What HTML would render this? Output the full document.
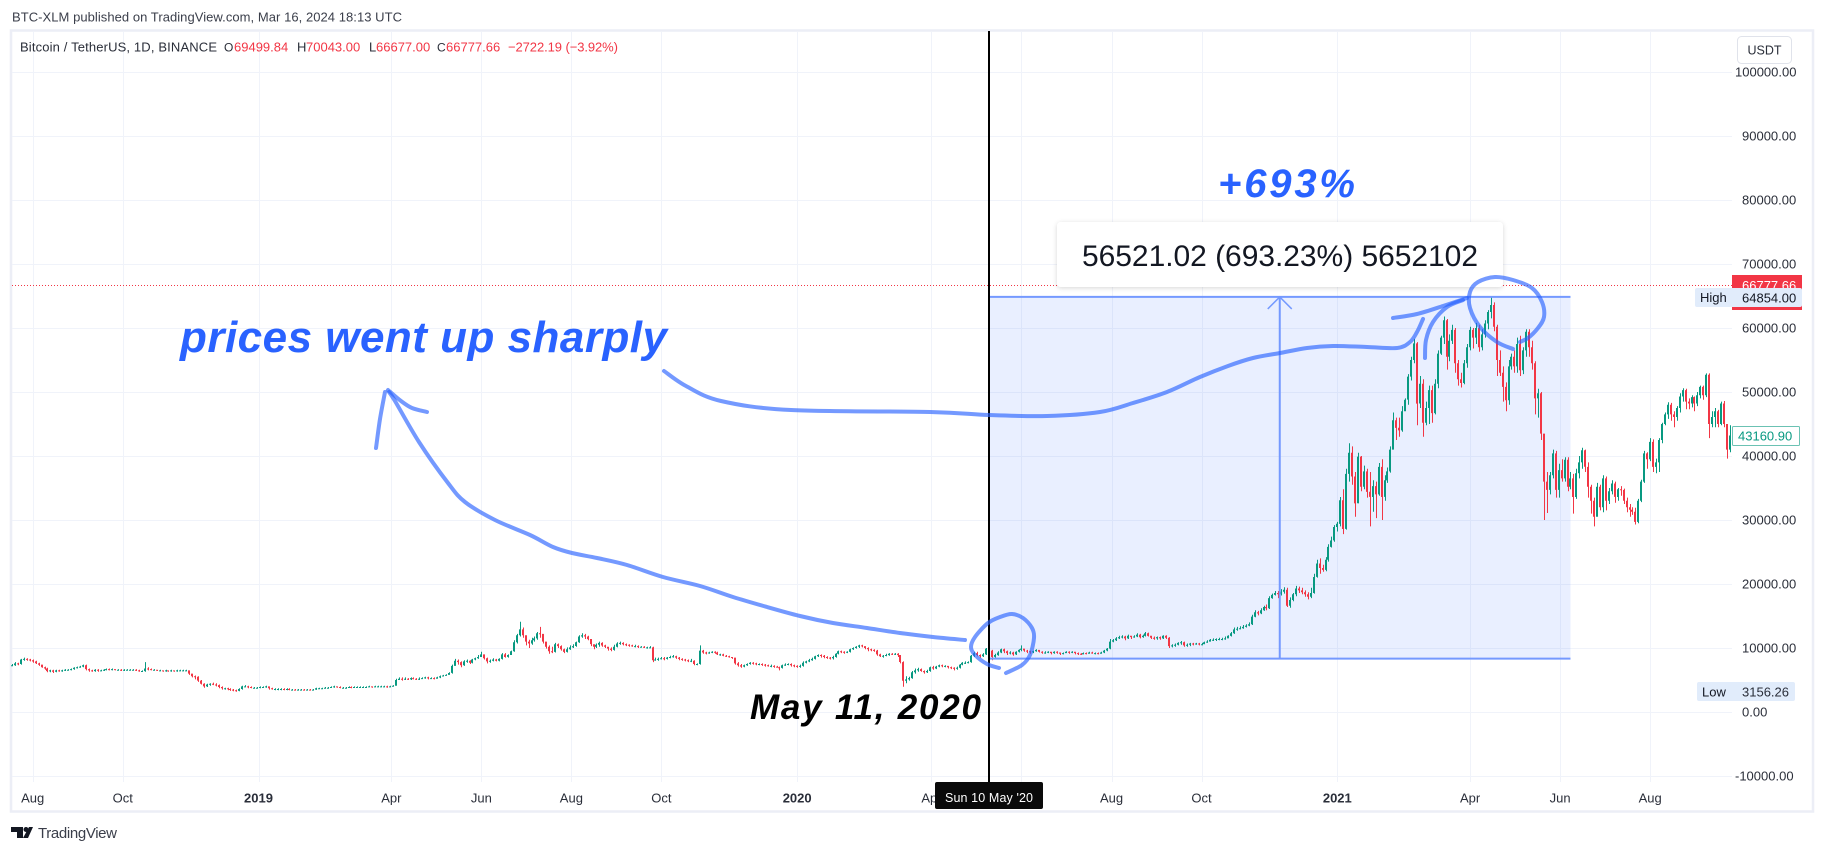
<!DOCTYPE html>
<html lang="en">
<head>
<meta charset="utf-8">
<title>Bitcoin / TetherUS, 1D, BINANCE</title>
<style>
html,body{margin:0;padding:0;background:#fff;width:1824px;height:852px;overflow:hidden}
svg{display:block;font-family:"Liberation Sans",sans-serif}
</style>
</head>
<body>
<svg id="chart" xmlns="http://www.w3.org/2000/svg" width="1824" height="852" viewBox="0 0 1824 852">
  <defs>
    <filter id="box-shadow" x="-5%" y="-20%" width="110%" height="150%">
      <feDropShadow dx="0" dy="1" stdDeviation="2.5" flood-color="#000" flood-opacity="0.16"/>
    </filter>
  </defs>
  <rect x="0" y="0" width="1824" height="852" fill="#fff"/>
  <text x="12" y="21.5" font-size="13" fill="#3a3e4a" textLength="390">BTC-XLM published on TradingView.com, Mar 16, 2024 18:13 UTC</text>
  <rect x="11" y="30.5" width="1802" height="781" fill="none" stroke="#eceef6" stroke-width="2.5"/>
  <g id="grid"></g>
  <g id="measure-fill"></g>
  <g id="candles"></g>
  <g id="measure-lines"></g>
  <line x1="12" y1="285.5" x2="1732" y2="285.5" stroke="#f23645" stroke-width="1" stroke-dasharray="1 2"/>
  <rect x="988" y="31" width="2" height="751" fill="#000"/>
  <g font-size="13">
    <text x="20" y="51.5" fill="#2a2e39" textLength="197">Bitcoin / TetherUS, 1D, BINANCE</text>
    <text x="224" y="51.5" fill="#2a2e39" font-size="12">O</text>
    <text x="234" y="51.5" fill="#f23645">69499.84</text>
    <text x="297" y="51.5" fill="#2a2e39">H</text>
    <text x="306" y="51.5" fill="#f23645">70043.00</text>
    <text x="369" y="51.5" fill="#2a2e39">L</text>
    <text x="376" y="51.5" fill="#f23645">66677.00</text>
    <text x="437" y="51.5" fill="#2a2e39" font-size="12">C</text>
    <text x="446" y="51.5" fill="#f23645">66777.66</text>
    <text x="508" y="51.5" fill="#f23645" textLength="110">−2722.19 (−3.92%)</text>
  </g>
  <rect x="1057" y="222" width="446" height="65" rx="4" fill="#fff" filter="url(#box-shadow)"/>
  <text x="1082" y="266" font-size="30" fill="#131722" textLength="396">56521.02 (693.23%) 5652102</text>
  <text x="1218" y="197" font-size="40" font-weight="bold" font-style="italic" fill="#2962ff" textLength="137">+693%</text>
  <text x="180" y="352" font-size="44" font-weight="bold" font-style="italic" fill="#2962ff" textLength="487">prices went up sharply</text>
  <text x="750" y="719" font-size="35" font-weight="bold" font-style="italic" fill="#000" textLength="231">May 11, 2020</text>
  <g id="strokes"></g>
  <g id="price-axis"></g>
  <g id="time-axis"></g>

  <rect x="1737.5" y="36.5" width="54" height="27" rx="4" fill="#fff" stroke="#e0e3eb"/>
  <text x="1764.5" y="54.5" font-size="12.5" fill="#2a2e39" text-anchor="middle">USDT</text>

  <rect x="1732" y="275" width="70" height="35" fill="#f23645"/>
  <text x="1742" y="290" font-size="13" fill="#fff">66777.66</text>
  <rect x="1695" y="288" width="107" height="19" rx="2" fill="#e1ecfb"/>
  <text x="1700" y="302" font-size="13" fill="#131722">High</text>
  <text x="1742" y="302.5" font-size="13" fill="#131722">64854.00</text>
  <rect x="1697" y="682" width="98" height="19" rx="2" fill="#e1ecfb"/>
  <text x="1702" y="696.5" font-size="13" fill="#131722">Low</text>
  <text x="1742" y="696.5" font-size="13" fill="#2a2e39">3156.26</text>
  <rect x="1732.5" y="426.5" width="67" height="19" rx="1" fill="#fff" stroke="#089981" stroke-opacity="0.6"/>
  <text x="1738" y="440.5" font-size="13" fill="#089981">43160.90</text>

  <rect x="935" y="782" width="108" height="27" rx="2" fill="#0a0a0a"/>
  <text x="989" y="802" font-size="12.5" fill="#fff" text-anchor="middle" textLength="88">Sun 10 May '20</text>

  <g fill="#131722">
    <path d="M11 827h12v11h-6v-6h-6z"/>
    <circle cx="26" cy="829.5" r="2.5"/>
    <path d="M29 827h4l-5 11h-5z"/>
  </g>
  <text x="38" y="838" font-size="15" fill="#3a3e4a" textLength="79">TradingView</text>
</svg>
<script>
// Values in thousands of USDT, one bar per two days starting 2018-07-18 (10 bars per row).
const firstOpen = 7.3;
const firstBarDay = -167;
const barStepDays = 2;
const closes = [
7.3,7.6,7.5,8.2,8.3,8.2,8.1,7.9,7.6,7.4,
7.0,6.8,6.4,6.5,6.3,6.5,6.4,6.5,6.6,6.6,
6.7,6.9,7.0,7.1,7.3,6.7,6.5,6.4,6.6,6.5,
6.5,6.6,6.7,6.6,6.7,6.6,6.6,6.5,6.6,6.6,
6.6,6.6,6.5,6.4,6.4,6.8,6.7,6.6,6.6,6.5,
6.5,6.4,6.5,6.4,6.5,6.4,6.5,6.5,6.5,6.5,
6.0,5.6,5.5,4.9,4.4,4.0,4.3,4.4,4.3,4.2,
3.9,3.7,3.7,3.6,3.5,3.4,3.3,3.6,4.0,4.0,
3.9,3.8,3.8,3.8,3.9,3.9,4.0,3.7,3.6,3.6,
3.6,3.6,3.5,3.6,3.5,3.5,3.4,3.5,3.5,3.4,
3.5,3.4,3.5,3.7,3.7,3.7,3.8,3.8,3.9,4.0,
3.9,3.8,3.8,3.8,3.9,3.8,3.9,3.9,3.9,3.9,
3.9,4.0,3.9,4.0,4.0,4.0,4.0,3.9,4.0,4.1,
5.0,5.2,5.1,5.2,5.1,5.3,5.2,5.1,5.2,5.3,
5.4,5.3,5.3,5.2,5.4,5.6,5.7,5.8,6.1,7.2,
8.0,7.8,7.3,7.9,8.0,7.7,8.2,8.4,8.6,9.0,
8.4,7.9,8.0,8.2,8.0,8.3,9.0,8.6,8.9,9.5,
10.9,12.0,12.9,12.0,11.0,10.7,11.2,11.5,12.3,12.2,
11.0,10.2,9.5,9.4,10.6,10.3,9.8,9.4,9.8,10.1,
10.3,10.9,11.8,12.0,11.8,11.4,10.6,10.2,10.5,10.8,
10.4,10.2,9.9,9.7,10.2,10.7,10.8,10.6,10.5,10.4,
10.3,10.3,10.2,10.2,10.1,10.1,10.1,8.1,8.2,8.3,
8.4,8.3,8.5,8.6,8.7,8.5,8.3,8.2,8.1,8.0,
8.0,7.5,7.5,9.6,9.3,9.2,9.3,9.4,9.3,9.0,
9.0,8.8,8.7,8.6,8.5,7.6,7.3,7.1,7.3,7.5,
7.7,7.6,7.5,7.5,7.4,7.3,7.2,7.2,7.1,7.0,
6.9,7.3,7.4,7.5,7.3,7.2,7.1,7.2,7.7,7.9,
8.1,8.3,8.7,8.9,8.8,8.6,8.5,8.4,8.6,9.1,
9.5,9.4,9.3,9.4,9.8,10.0,10.2,10.4,10.3,10.0,
9.8,9.7,9.6,9.0,8.7,8.8,8.9,9.1,9.0,9.1,
8.9,7.8,4.9,5.1,5.3,6.2,6.5,6.7,6.4,6.2,
6.4,7.0,6.8,7.1,7.3,7.2,7.2,7.0,6.9,6.8,
6.9,7.4,7.7,7.7,7.8,8.8,9.2,8.9,8.7,9.0,
9.9,9.6,8.6,8.9,9.3,9.8,9.5,9.2,9.3,9.0,
9.4,9.7,9.9,9.6,9.5,9.4,9.5,9.7,9.4,9.3,
9.3,9.4,9.2,9.4,9.3,9.1,9.2,9.4,9.3,9.4,
9.2,9.1,9.0,9.2,9.1,9.3,9.2,9.2,9.1,9.3,
9.6,9.9,11.0,11.2,11.5,11.7,11.8,11.5,11.9,11.7,
11.8,12.1,11.7,11.9,12.3,11.9,11.6,11.5,11.7,11.5,
11.9,11.6,10.3,10.4,10.5,10.8,10.9,10.4,10.5,10.7,
10.6,10.7,10.6,10.6,10.9,11.0,11.3,11.3,11.4,11.4,
11.4,11.5,11.9,12.3,12.9,13.0,13.1,13.3,13.5,13.7,
14.9,15.6,15.4,15.9,16.4,16.2,17.8,18.3,18.6,18.4,
18.8,19.1,16.6,17.5,18.4,19.3,19.0,18.7,18.4,18.0,
18.6,21.1,23.2,22.5,22.2,23.8,25.8,26.8,28.9,29.4,
33.1,28.6,37.2,40.5,36.8,32.6,39.9,35.2,37.6,34.4,
33.6,35.3,34.0,38.3,33.6,36.2,37.6,41.0,45.6,44.4,
44.0,47.0,48.8,52.4,55.0,57.6,48.2,51.3,45.2,47.5,
50.3,46.7,51.3,56.0,58.5,61.2,55.5,58.0,59.7,54.5,
52.0,51.4,54.5,57.0,59.7,58.5,60.0,57.0,59.0,60.7,
62.5,63.6,60.2,55.0,53.0,50.8,48.7,54.0,55.5,54.0,
57.5,53.4,56.5,59.4,57.0,54.5,49.0,49.8,43.5,36.0,
34.7,37.0,40.4,34.7,37.8,36.5,39.4,35.2,36.5,33.6,
37.3,39.0,40.9,38.3,35.2,33.0,30.5,35.2,32.0,36.5,
33.0,34.5,35.7,33.6,34.8,34.7,33.0,32.0,31.6,31.3,
29.7,33.0,36.0,40.4,39.5,42.2,38.3,39.0,42.5,45.0,
46.5,48.0,46.5,46.1,47.5,49.3,50.3,48.5,48.2,49.2,
48.2,49.5,50.8,49.5,52.7,45.0,46.1,47.0,45.0,48.2,
45.0,41.0,43.2
];
const highs = [
7.5,7.8,7.7,8.3,8.5,8.4,8.3,8.2,8.0,7.7,
7.4,7.1,6.9,6.6,6.6,6.6,6.6,6.6,6.7,6.7,
6.8,7.0,7.1,7.2,7.4,7.4,6.8,6.6,6.7,6.7,
6.6,6.7,6.8,6.8,6.8,6.7,6.7,6.7,6.7,6.7,
6.7,6.7,6.7,6.6,6.5,7.8,7.0,6.8,6.7,6.6,
6.6,6.5,6.6,6.5,6.6,6.5,6.6,6.6,6.6,6.6,
6.5,6.0,5.7,5.6,5.0,4.5,4.4,4.5,4.6,4.5,
4.3,4.0,3.8,3.8,3.7,3.6,3.5,3.7,4.1,4.2,
4.1,4.0,3.9,3.9,4.0,4.0,4.1,4.0,3.8,3.7,
3.7,3.7,3.7,3.7,3.7,3.6,3.6,3.6,3.6,3.6,
3.6,3.6,3.6,3.8,3.8,3.8,3.9,3.9,4.0,4.1,
4.0,4.0,3.9,3.9,4.0,4.0,4.0,4.0,4.0,4.0,
4.0,4.1,4.0,4.1,4.1,4.1,4.1,4.1,4.1,4.2,
5.2,5.4,5.4,5.4,5.3,5.4,5.4,5.3,5.4,5.4,
5.5,5.5,5.4,5.4,5.5,5.7,5.8,5.9,6.2,7.4,
8.3,8.2,7.9,8.1,8.2,8.1,8.3,8.5,8.9,9.4,
9.0,8.5,8.2,8.4,8.3,8.4,9.2,9.2,9.0,9.6,
11.2,12.2,14.1,13.2,12.0,11.3,11.6,11.8,12.5,13.3,
12.2,11.0,10.4,10.2,10.8,10.7,10.4,9.9,10.1,10.4,
10.6,11.0,12.0,12.3,12.2,11.9,11.4,10.6,10.7,11.0,
10.9,10.5,10.2,10.1,10.5,10.9,11.0,10.9,10.7,10.6,
10.5,10.5,10.4,10.3,10.3,10.2,10.3,10.2,8.5,8.5,
8.6,8.6,8.6,8.8,8.9,8.8,8.6,8.4,8.3,8.2,
8.3,8.1,7.6,10.4,9.7,9.4,9.4,9.5,9.5,9.4,
9.1,9.1,8.9,8.8,8.6,8.5,7.8,7.5,7.4,7.6,
7.8,7.8,7.7,7.6,7.6,7.5,7.4,7.4,7.3,7.2,
7.1,7.4,7.6,7.6,7.6,7.4,7.3,7.4,7.9,8.0,
8.3,8.5,8.8,9.0,9.0,8.9,8.7,8.6,8.8,9.2,
9.6,9.6,9.5,9.5,9.9,10.1,10.3,10.5,10.5,10.3,
10.1,9.9,9.8,9.7,9.1,8.9,9.1,9.2,9.2,9.2,
9.2,8.9,7.9,5.6,5.5,6.4,6.8,6.9,6.8,6.5,
6.6,7.1,7.2,7.2,7.4,7.4,7.3,7.2,7.1,7.0,
7.1,7.5,7.8,7.9,7.9,8.9,9.4,9.4,9.0,9.2,
10.0,10.1,9.7,9.1,9.5,9.9,9.9,9.6,9.5,9.4,
9.5,9.8,10.4,9.9,9.7,9.6,9.6,9.8,9.7,9.5,
9.5,9.5,9.4,9.5,9.5,9.3,9.3,9.5,9.5,9.5,
9.4,9.3,9.2,9.3,9.3,9.4,9.4,9.3,9.3,9.4,
9.7,10.0,11.4,11.4,11.7,11.9,12.0,11.9,12.1,11.9,
12.0,12.3,12.2,12.1,12.5,12.4,11.9,11.8,11.8,11.8,
12.0,12.0,11.7,10.6,10.7,10.9,11.1,11.0,10.7,10.8,
10.8,10.8,10.8,10.8,11.0,11.2,11.4,11.5,11.5,11.6,
11.6,11.8,12.0,12.5,13.2,13.3,13.4,13.6,13.7,14.0,
15.2,15.9,15.8,16.2,16.6,16.8,18.1,18.5,18.9,18.9,
19.2,19.5,19.4,17.9,18.6,19.7,19.6,19.4,19.0,18.7,
19.4,21.6,23.8,24.0,23.0,24.2,26.2,27.4,29.2,29.7,
33.6,34.8,38.0,42.0,41.5,37.5,40.5,40.0,38.5,38.0,
37.5,36.2,36.0,38.9,39.5,37.0,38.2,41.5,46.8,46.0,
46.0,47.8,49.0,52.8,55.5,58.3,57.8,52.5,52.0,48.5,
51.0,51.0,52.0,56.5,58.8,61.8,61.4,59.0,60.5,60.0,
55.0,53.0,55.0,57.5,60.2,60.0,60.8,60.5,59.8,61.2,
62.8,64.85,64.0,60.5,56.5,54.0,51.5,55.0,56.0,56.5,
58.5,58.8,57.0,59.8,59.8,58.0,54.8,50.5,50.0,43.5,
37.5,37.5,41.0,40.8,38.8,39.5,39.8,39.8,37.5,37.2,
38.0,40.0,41.3,41.0,39.0,35.5,33.5,35.8,35.5,37.0,
36.8,35.0,36.2,36.0,35.0,35.3,34.9,33.5,32.5,32.0,
31.9,33.3,36.3,40.8,40.6,42.8,42.6,39.6,42.8,45.2,
46.8,48.4,48.3,47.0,47.8,49.8,50.6,50.5,49.0,49.5,
49.3,50.0,51.0,51.0,52.9,52.9,47.0,47.5,47.2,48.5,
48.6,45.0,44.8
];
const lows = [
7.2,7.2,7.3,7.4,8.0,8.0,7.9,7.7,7.5,7.2,
6.9,6.6,6.2,6.2,6.1,6.2,6.3,6.3,6.4,6.5,
6.5,6.6,6.8,6.9,7.0,6.5,6.3,6.3,6.3,6.3,
6.4,6.4,6.5,6.5,6.5,6.5,6.5,6.4,6.4,6.5,
6.5,6.5,6.4,6.3,6.3,6.3,6.5,6.5,6.5,6.4,
6.4,6.3,6.3,6.3,6.3,6.3,6.3,6.4,6.4,6.4,
5.8,5.4,5.1,4.7,4.3,3.8,3.9,4.1,4.2,4.0,
3.7,3.5,3.5,3.4,3.3,3.25,3.16,3.25,3.5,3.9,
3.7,3.7,3.7,3.7,3.7,3.8,3.8,3.5,3.5,3.4,
3.4,3.4,3.4,3.4,3.4,3.4,3.35,3.4,3.4,3.35,
3.4,3.35,3.4,3.45,3.6,3.6,3.7,3.7,3.8,3.8,
3.8,3.7,3.7,3.7,3.8,3.7,3.8,3.8,3.8,3.8,
3.8,3.9,3.8,3.9,3.9,3.9,3.9,3.8,3.9,4.0,
4.1,5.0,4.9,5.0,5.0,5.0,5.1,5.0,5.0,5.2,
5.2,5.1,5.2,5.1,5.2,5.3,5.6,5.7,5.8,6.0,
7.2,7.4,7.0,7.2,7.7,7.5,7.6,8.1,8.3,8.6,
8.2,7.6,7.7,7.9,7.9,7.9,8.2,8.5,8.5,8.9,
9.4,10.7,11.8,11.6,10.4,10.0,10.5,11.0,11.3,11.6,
10.7,9.9,9.1,9.2,9.3,10.0,9.6,9.2,9.3,9.7,
10.0,10.2,10.8,11.6,11.4,11.2,10.3,9.8,10.0,10.2,
10.2,10.0,9.6,9.5,9.6,10.1,10.5,10.4,10.3,10.2,
10.2,10.1,10.0,10.1,10.0,9.9,10.0,7.8,8.0,8.0,
8.2,8.1,8.2,8.4,8.5,8.3,8.1,8.0,7.9,7.8,
7.8,7.3,7.3,7.4,9.1,9.0,9.1,9.2,9.1,8.9,
8.8,8.7,8.6,8.5,8.3,7.4,7.1,6.9,7.0,7.2,
7.4,7.4,7.3,7.3,7.2,7.1,7.1,7.0,6.9,6.9,
6.5,6.8,7.2,7.3,7.1,7.0,6.9,6.9,7.1,7.6,
7.8,8.0,8.2,8.6,8.5,8.4,8.3,8.2,8.2,8.5,
9.0,9.2,9.1,9.2,9.3,9.7,9.9,10.0,10.1,9.8,
9.5,9.5,9.4,8.8,8.6,8.5,8.7,8.8,8.9,8.9,
8.6,7.6,3.95,4.5,4.9,5.2,6.0,6.3,6.3,6.0,
6.1,6.3,6.6,6.7,7.0,7.0,7.0,6.8,6.7,6.5,
6.6,6.8,7.3,7.5,7.6,7.7,8.6,8.7,8.5,8.6,
8.9,9.4,8.1,8.5,8.8,9.2,9.2,8.9,9.0,8.8,
8.9,9.3,9.5,9.4,9.2,9.1,9.2,9.4,9.3,9.1,
9.1,9.2,9.0,9.1,9.1,8.9,9.0,9.2,9.1,9.2,
9.0,8.9,8.9,9.0,9.0,9.1,9.1,9.0,9.0,9.1,
9.2,9.5,9.8,10.9,11.1,11.4,11.5,11.2,11.4,11.4,
11.6,11.7,11.5,11.6,11.8,11.8,11.4,11.3,11.3,11.3,
11.4,11.4,10.0,10.1,10.2,10.4,10.5,10.2,10.2,10.3,
10.4,10.5,10.4,10.4,10.6,10.8,11.0,11.1,11.1,11.2,
11.2,11.3,11.5,11.8,12.2,12.7,12.9,13.0,13.2,13.4,
13.6,14.8,15.1,15.3,15.8,15.9,16.1,17.7,18.2,17.8,
18.2,18.5,16.4,16.3,17.3,18.1,18.6,18.4,18.0,17.6,
17.8,18.5,21.0,21.6,21.9,22.0,23.5,25.7,26.6,28.2,
29.0,27.8,28.5,36.0,35.5,30.5,32.6,34.5,34.8,33.5,
29.0,31.3,30.3,33.8,30.0,33.0,35.8,37.4,41.0,42.5,
43.0,43.8,47.0,48.0,51.8,54.5,44.8,47.5,43.0,44.8,
45.0,45.2,46.5,50.6,55.8,57.5,53.5,54.8,57.5,53.0,
51.0,50.7,51.2,53.8,56.5,56.8,57.5,56.3,56.5,58.5,
59.8,61.5,59.5,52.5,52.5,48.5,47.0,48.0,53.5,53.0,
53.0,52.5,52.8,55.5,55.5,53.5,46.5,46.0,42.5,30.0,
31.1,34.0,36.5,33.5,33.5,36.0,36.0,34.5,34.8,31.0,
33.3,36.5,38.0,37.5,33.5,31.0,29.0,30.5,31.5,31.2,
31.5,32.5,34.0,32.7,33.0,33.8,32.5,31.2,30.5,30.8,
29.3,29.5,32.8,35.8,38.0,39.2,37.5,37.3,37.5,42.0,
44.8,45.8,45.5,44.5,45.5,46.8,48.5,47.3,47.3,47.6,
47.0,47.8,49.0,48.8,49.2,42.8,44.5,44.5,44.5,44.8,
44.5,39.6,40.6
];
const priceTicks = [100000,90000,80000,70000,60000,50000,40000,30000,20000,10000,0,-10000];
const timeTickLabels = ['Aug','Oct','2019','Apr','Jun','Aug','Oct','2020','Apr','Jun','Aug','Oct','2021','Apr','Jun','Aug'];
const timeTickDays = [-153,-92,0,90,151,212,273,365,456,517,578,639,731,821,882,943];
const timeTickBold = ['2019','2020','2021'];
const measureLow = 8333;
const measureHigh = 64854;
const measureStartDay = 495;
const measureEndDay = 889;
const measureArrowDay = 692;

const NS = 'http://www.w3.org/2000/svg';
function xOf(day){ return 258.5 + 1.4758 * day; }
function yOf(price){ return 712 - price * 0.0064; }
function make(tag, attrs, parent){
  const e = document.createElementNS(NS, tag);
  for (const k in attrs) e.setAttribute(k, attrs[k]);
  parent.appendChild(e);
  return e;
}

const gridG = document.getElementById('grid');
priceTicks.forEach(function(p){
  const y = Math.round(yOf(p)) + 0.5;
  const ln = make('line', {x1:12, x2:1732, y1:y, y2:y, stroke:'#f0f3fa', 'stroke-width':1}, gridG);
  
  
});
timeTickDays.forEach(function(d){
  const x = Math.round(xOf(d)) + 0.5;
  const ln = make('line', {x1:x, x2:x, y1:32, y2:782, stroke:'#f0f3fa', 'stroke-width':1}, gridG);
  
  
});

const fillG = document.getElementById('measure-fill');
const mFill = make('rect', {x:xOf(measureStartDay), y:yOf(measureHigh), width:xOf(measureEndDay)-xOf(measureStartDay), height:yOf(measureLow)-yOf(measureHigh), fill:'#2962ff', 'fill-opacity':0.1}, fillG);



const candleG = document.getElementById('candles');
closes.forEach(function(c, i){
  const o = i === 0 ? firstOpen : closes[i-1];
  const h = Math.max(highs[i], o, c);
  const l = Math.min(lows[i], o, c);
  const x = Math.round(xOf(firstBarDay + i * barStepDays));
  const yh = yOf(h*1000), yl = yOf(l*1000);
  const yo = yOf(o*1000), yc = yOf(c*1000);
  const top = Math.min(yo, yc);
  const bh = Math.max(1, Math.abs(yo - yc));
  const d = 'M'+x+' '+yh.toFixed(1)+'h1V'+yl.toFixed(1)+'h-1zM'+(x-1)+' '+top.toFixed(1)+'h2v'+bh.toFixed(1)+'h-2z';
  const bar = make('path', {d:d, fill: c >= o ? '#089981' : '#f23645'}, candleG);
  
  
});

const mLines = document.getElementById('measure-lines');
const lineColor = '#7499ff';
const mTop = make('line', {x1:xOf(measureStartDay), x2:xOf(measureEndDay), y1:yOf(measureHigh), y2:yOf(measureHigh), stroke:lineColor, 'stroke-width':2}, mLines);


const mBot = make('line', {x1:xOf(measureStartDay), x2:xOf(measureEndDay), y1:yOf(measureLow), y2:yOf(measureLow), stroke:lineColor, 'stroke-width':2}, mLines);


const ax = xOf(measureArrowDay), ayT = yOf(measureHigh), ayB = yOf(measureLow);
const mArrow = make('line', {x1:ax, x2:ax, y1:ayT, y2:ayB, stroke:lineColor, 'stroke-width':2}, mLines);


const mHead = make('path', {d:'M'+(ax-12)+' '+(ayT+12)+'L'+ax+' '+ayT+'L'+(ax+12)+' '+(ayT+12), fill:'none', stroke:lineColor, 'stroke-width':1.5}, mLines);



function smooth(pts){
  let d = 'M' + pts[0][0] + ' ' + pts[0][1];
  for (let i = 0; i < pts.length - 1; i++){
    const p0 = pts[i-1] || pts[i], p1 = pts[i], p2 = pts[i+1], p3 = pts[i+2] || p2;
    d += 'C' + (p1[0]+(p2[0]-p0[0])/6).toFixed(1) + ' ' + (p1[1]+(p2[1]-p0[1])/6).toFixed(1) + ' '
       + (p2[0]-(p3[0]-p1[0])/6).toFixed(1) + ' ' + (p2[1]-(p3[1]-p1[1])/6).toFixed(1) + ' ' + p2[0] + ' ' + p2[1];
  }
  return d;
}
const strokeG = document.getElementById('strokes');
const strokeStyle = {fill:'none', stroke:'#2962ff', 'stroke-opacity':0.65, 'stroke-width':4, 'stroke-linecap':'round', 'stroke-linejoin':'round'};
function drawStroke(pts){
  const a = Object.assign({d:smooth(pts)}, strokeStyle);
  return make('path', a, strokeG);
}
const s1 = drawStroke([[965,640],[933,637],[900,633],[867,628],[833,623],[800,616],[767,607],[733,597],[700,586],[663,577],[627,565],[597,558],[572,553],[553,547],[530,535],[495,520],[465,502],[448,483],[419,442],[395,401],[389,392]]);


const s2 = drawStroke([[376,448],[380,419],[385,392]]);


const s3 = drawStroke([[388,390],[401,401],[412,408],[427,412]]);


const s4 = drawStroke([[664,371],[686,386],[721,401],[791,410],[930,412],[989,415],[1047,416],[1100,412],[1133,403],[1167,392],[1200,377],[1228,366],[1253,358],[1280,353],[1307,348],[1333,346],[1367,347],[1397,348],[1410,342],[1417,332],[1423,319]]);


const s5 = drawStroke([[1393,318],[1417,314],[1443,306],[1467,298]]);


const s6 = drawStroke([[1425,358],[1426,340],[1433,322],[1447,307],[1463,300]]);


const s7 = drawStroke([[999,668],[987,664],[975,655],[971,647],[975,637],[988,623],[1000,617],[1012,614],[1023,618],[1032,628],[1034,638],[1030,655],[1022,665],[1006,673]]);


const s8 = drawStroke([[1513,349],[1497,342],[1480,327],[1470,308],[1470,292],[1478,282],[1495,277],[1513,280],[1532,288],[1542,302],[1544,317],[1538,328],[1528,338],[1520,342]]);



const pAxis = document.getElementById('price-axis');
priceTicks.forEach(function(p){
  const label = p.toFixed(2);
  const t = make('text', {x: label.length >= 9 ? 1735 : 1742, y: yOf(p) + 4.5, 'font-size':13, fill:'#2a2e39'}, pAxis);
  t.textContent = label;
  
  
});
const tAxis = document.getElementById('time-axis');
timeTickLabels.forEach(function(label, i){
  const x = xOf(timeTickDays[i]);
  const bold = timeTickBold.indexOf(label) >= 0;
  const t = make('text', {x:x, y:802.5, 'font-size':13, 'text-anchor':'middle', fill:'#2a2e39', 'font-weight': bold ? 'bold' : 'normal'}, tAxis);
  t.textContent = label;
  
  
});
</script>
</body>
</html>
